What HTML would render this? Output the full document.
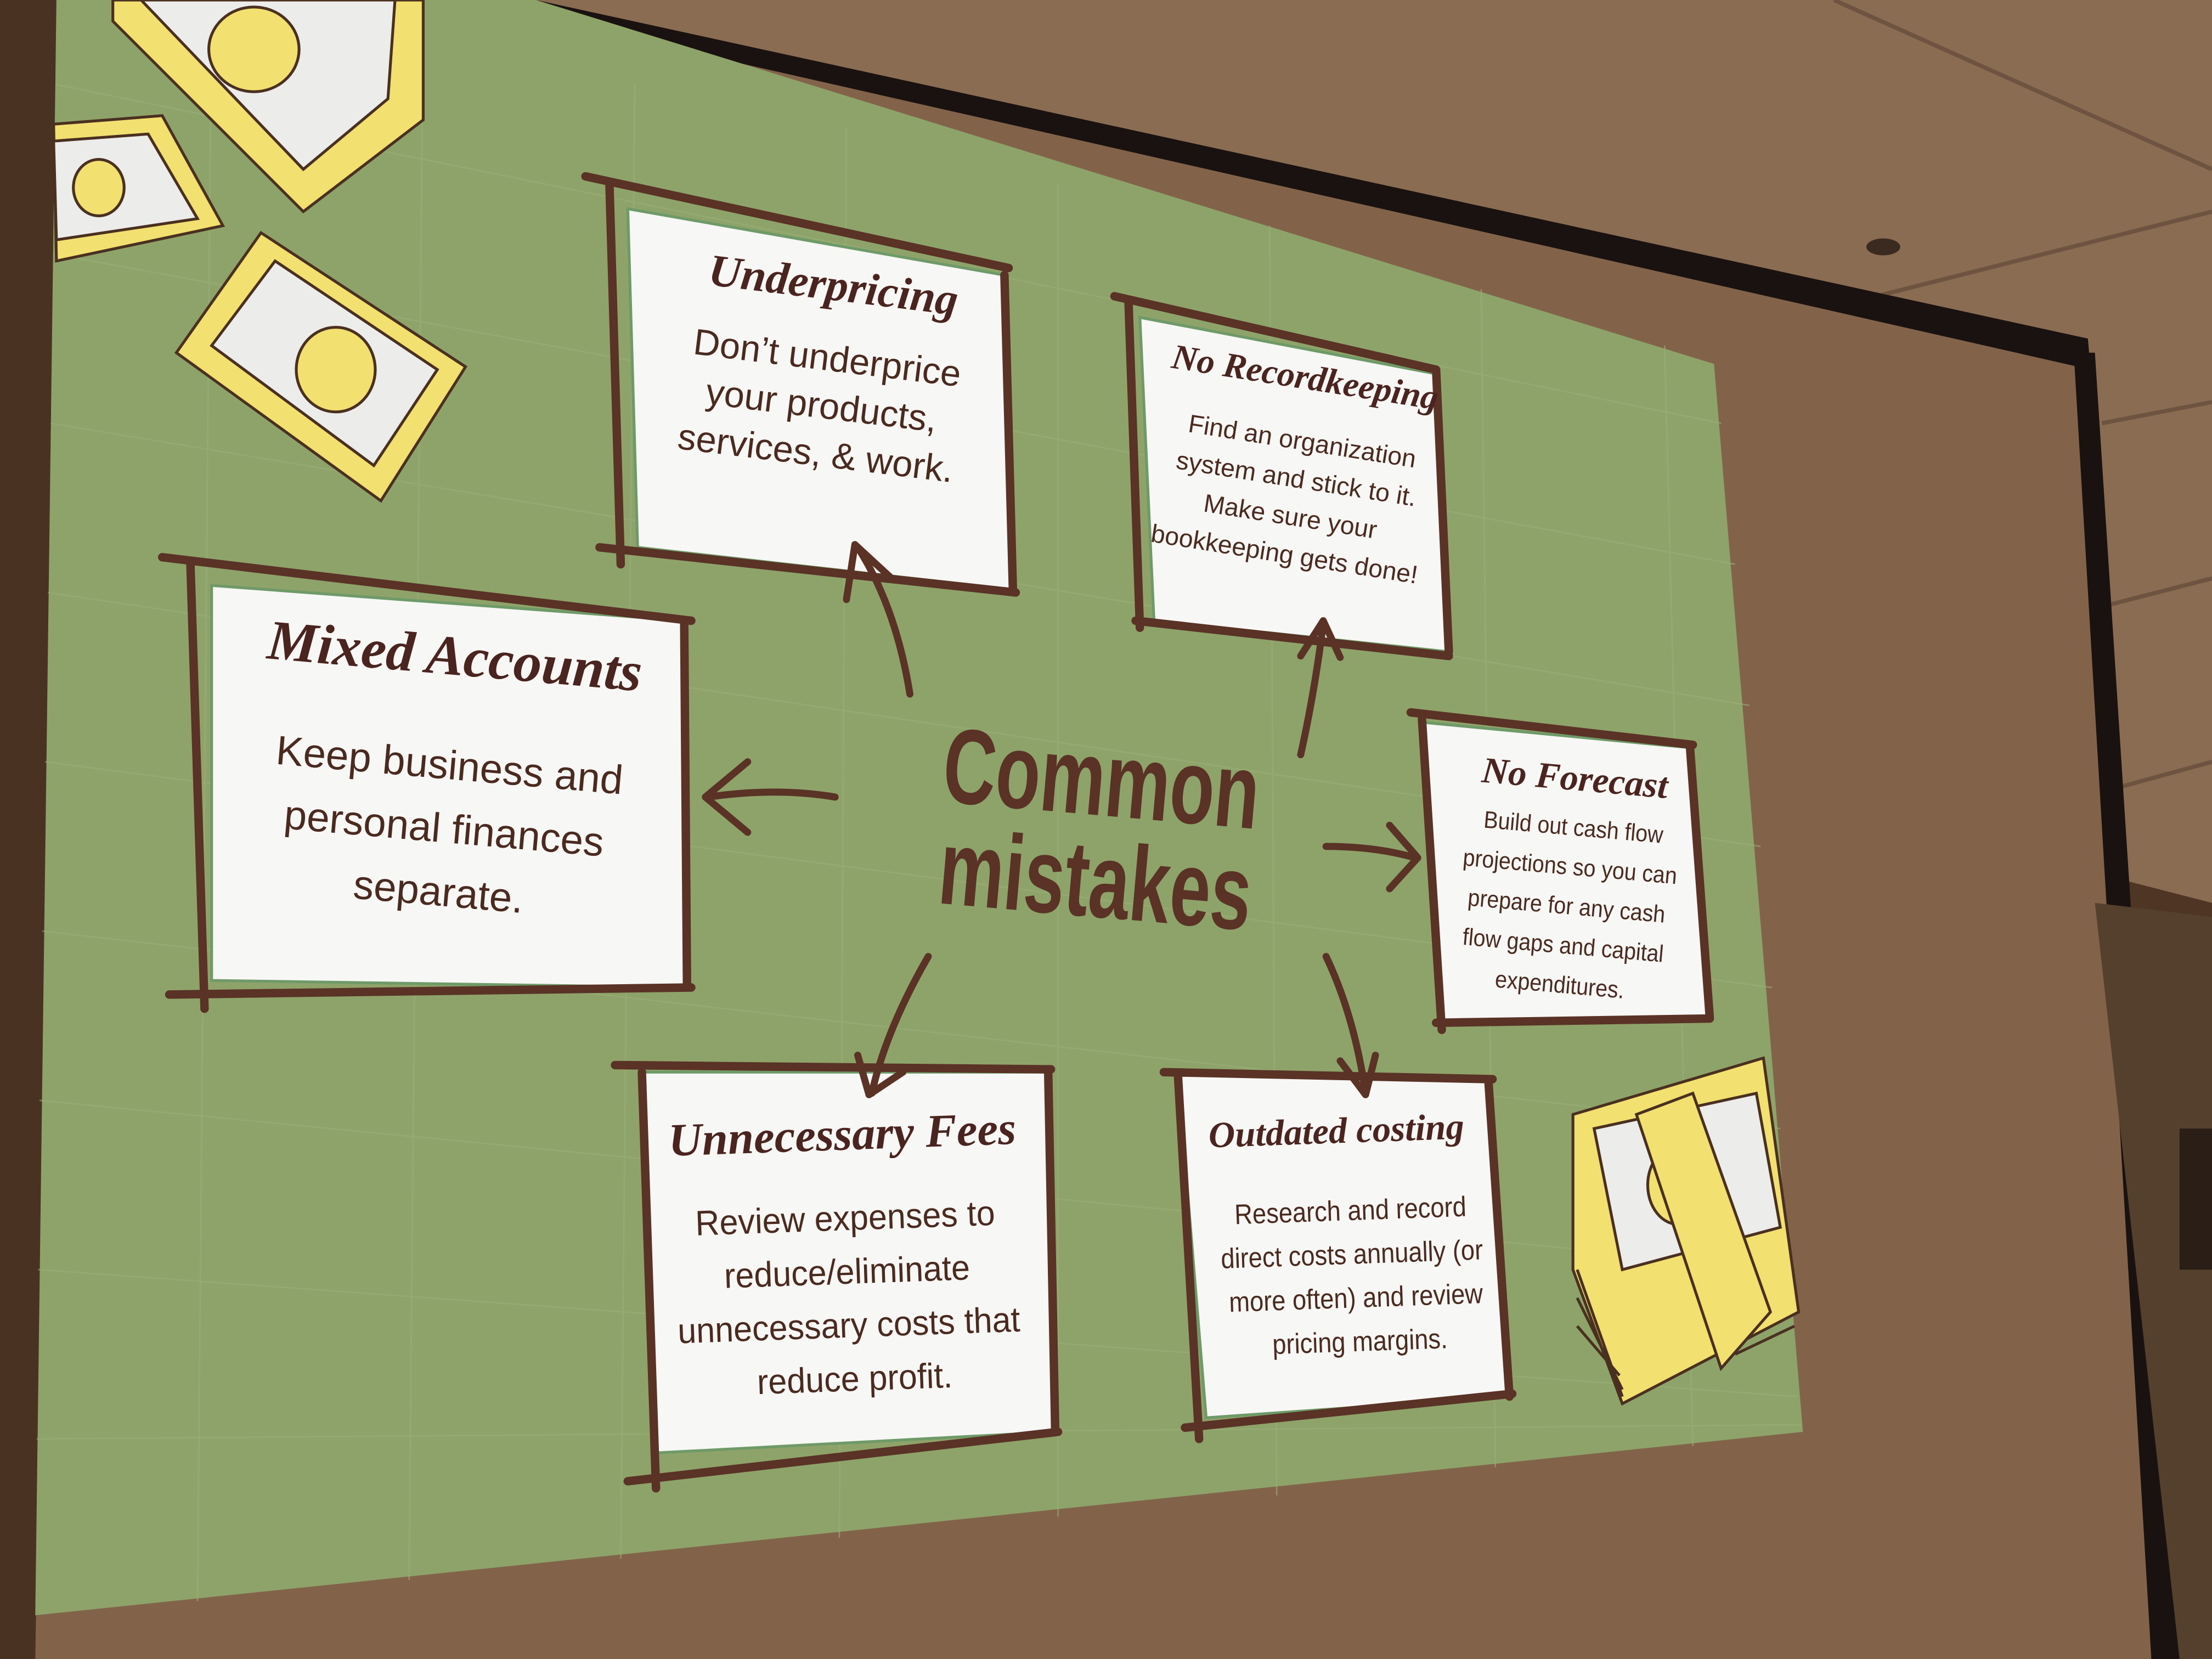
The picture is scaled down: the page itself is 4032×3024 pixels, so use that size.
<!DOCTYPE html>
<html><head><meta charset="utf-8"><style>
html,body{margin:0;padding:0;background:#4a3323;}
svg{display:block}
text{font-family:"Liberation Sans",sans-serif;fill:#4a2a20}
.t{font-family:"Liberation Serif",serif;font-style:italic;font-weight:bold;fill:#4a2420}
</style></head><body>
<svg width="4032" height="3024" viewBox="0 0 1568 1176" xmlns="http://www.w3.org/2000/svg">
<rect width="1568" height="1176" fill="#4e3524"/>
<polygon points="380,0 1568,0 1568,640 1490,620 1480,250" fill="#8a6c52"/>
<line x1="1300" y1="0" x2="1568" y2="120" stroke="#6e5440" stroke-width="3"/>
<line x1="1330" y1="210" x2="1568" y2="150" stroke="#6e5440" stroke-width="3"/>
<line x1="1490" y1="300" x2="1568" y2="285" stroke="#6e5440" stroke-width="3"/>
<line x1="1490" y1="430" x2="1568" y2="410" stroke="#6e5440" stroke-width="3"/>
<line x1="1495" y1="560" x2="1568" y2="540" stroke="#6e5440" stroke-width="3"/>
<ellipse cx="1335" cy="175" rx="12" ry="6" fill="#3a2a20"/>
<polygon points="0,0 380,0 1480,250 1540,1176 0,1176" fill="#82634a"/>
<polygon points="0,0 45,0 25,1176 0,1176" fill="#4a3222"/>
<polygon points="380,0 1480,240 1482,262 380,12" fill="#1a1210"/>
<polygon points="1470,250 1485,250 1545,1176 1525,1176" fill="#1a1210"/>
<polygon points="1485,640 1568,650 1568,1176 1545,1176" fill="#55402e"/>
<rect x="1545" y="800" width="23" height="100" fill="#2a1e16"/>
<polygon points="40,0 380,0 1215,258 1278,1015 25,1145" fill="#8ea36a"/>
<g stroke="#9bb07a" stroke-width="1" opacity="0.6">
<path d="M40,60 L1220,300 M38,180 L1230,400 M36,300 L1240,500 M34,420 L1248,600 M32,540 L1256,700 M30,660 L1262,800 M28,780 L1268,900 M27,900 L1274,990 M26,1020 L1277,1010"/>
<path d="M150,0 L140,1135 M300,0 L290,1120 M450,60 L440,1105 M600,90 L595,1090 M750,130 L750,1075 M900,160 L905,1060 M1050,205 L1060,1040 M1180,245 L1200,1025"/>
</g>
<g stroke="#4a3020" stroke-width="2">
<polygon points="80,0 300,0 300,85 215,150 80,15" fill="#f2e070"/>
<polygon points="100,0 280,0 275,70 215,120" fill="#ececea"/>
<ellipse cx="180" cy="35" rx="32" ry="30" fill="#f2e070"/>
<polygon points="38,88 115,82 158,160 40,185" fill="#f2e070"/>
<polygon points="38,100 105,95 140,155 40,170" fill="#ececea"/>
<ellipse cx="70" cy="133" rx="18" ry="20" fill="#f2e070"/>
<polygon points="125,250 185,165 330,260 270,355" fill="#f2e070"/>
<polygon points="150,245 195,185 310,262 265,330" fill="#ececea"/>
<ellipse cx="238" cy="262" rx="28" ry="30" fill="#f2e070"/>
</g>
<g stroke="#4a3020" stroke-width="2">
<polygon points="1115,790 1250,750 1275,930 1150,995 1115,900" fill="#f2e070"/>
<polygon points="1130,800 1245,775 1262,870 1150,900" fill="#ececea"/>
<ellipse cx="1190" cy="840" rx="22" ry="28" fill="#f2e070"/>
<polygon points="1160,790 1200,775 1255,930 1220,970" fill="#f2e070"/>
<path d="M1118,900 L1150,990 M1118,920 L1150,985 M1118,940 L1148,975 M1230,960 L1272,940" fill="none"/>
</g>
<g fill="#f7f7f5" stroke="#6e9a68" stroke-width="2">
<polygon points="445,148 712,195 718,418 452,388"/>
<polygon points="808,225 1018,265 1027,462 818,440"/>
<polygon points="150,415 485,440 487,700 150,695"/>
<polygon points="1008,512 1198,530 1212,722 1022,724"/>
<polygon points="455,760 745,760 748,1015 463,1030"/>
<polygon points="835,762 1055,765 1070,990 855,1005"/>
</g>
<g stroke="#5a3226" stroke-width="6" fill="none" stroke-linecap="round">
<path d="M415,125 L715,190 M432,130 L440,400 M425,388 L720,420 M712,195 L718,418"/>
<path d="M790,210 L1018,262 M800,215 L808,445 M805,440 L1027,465 M1018,262 L1027,462"/>
<path d="M115,395 L490,440 M135,400 L145,715 M120,705 L490,700 M485,440 L487,700"/>
<path d="M1000,505 L1200,528 M1008,510 L1022,730 M1018,725 L1212,722 M1198,530 L1212,722"/>
<path d="M436,755 L745,758 M455,760 L465,1055 M445,1050 L750,1015 M743,758 L748,1015"/>
<path d="M825,760 L1058,765 M835,762 L850,1020 M840,1012 L1072,988 M1055,765 L1070,990"/>
</g>
<g stroke="#5a3226" stroke-width="5" fill="none" stroke-linecap="round" stroke-linejoin="round">
<path d="M645,492 Q635,430 608,388 M600,425 L606,386 L632,410"/>
<path d="M922,535 Q932,490 938,442 M922,465 L938,440 L950,466"/>
<path d="M592,565 Q550,558 502,565 M530,540 L500,565 L530,590"/>
<path d="M940,600 Q975,600 1003,608 M985,585 L1005,608 L985,630"/>
<path d="M658,678 Q628,730 618,775 M608,748 L616,776 L640,760"/>
<path d="M940,678 Q960,720 968,775 M950,752 L968,776 L975,748"/>
</g>
<g transform="rotate(5 780 585)">
<text x="778" y="578" text-anchor="middle" font-size="72" font-weight="bold" style="font-family:'Liberation Sans Narrow','Liberation Sans',sans-serif;fill:#5a3226" transform="scale(0.72,1.05)" transform-origin="778 578">Common</text>
<text x="780" y="650" text-anchor="middle" font-size="72" font-weight="bold" style="font-family:'Liberation Sans Narrow','Liberation Sans',sans-serif;fill:#5a3226" transform="scale(0.72,1.05)" transform-origin="780 650">mistakes</text>
</g>
<g transform="rotate(7 580 290)">
<text class="t" x="580" y="212" text-anchor="middle" font-size="32">Underpricing</text>
<g font-size="26" text-anchor="middle"><text x="582" y="262">Don’t underprice</text><text x="582" y="296">your products,</text><text x="582" y="330">services, &amp; work.</text></g>
</g>
<g transform="rotate(9 915 345)">
<text class="t" x="913" y="275" text-anchor="middle" font-size="25">No Recordkeeping</text>
<g font-size="18" text-anchor="middle"><text x="918" y="318">Find an organization</text><text x="918" y="345">system and stick to it.</text><text x="918" y="372">Make sure your</text><text x="918" y="399">bookkeeping gets done!</text></g>
</g>
<g transform="rotate(5 315 550)">
<text class="t" x="315" y="478" text-anchor="middle" font-size="40">Mixed Accounts</text>
<g font-size="29" text-anchor="middle"><text x="318" y="552">Keep business and</text><text x="318" y="597">personal finances</text><text x="318" y="642">separate.</text></g>
</g>
<g transform="rotate(5 1112 625)">
<text class="t" x="1110" y="560" text-anchor="middle" font-size="26">No Forecast</text>
<g font-size="17" text-anchor="middle" transform="scale(0.9,1)" transform-origin="1112 625"><text x="1112" y="592">Build out cash flow</text><text x="1112" y="620">projections so you can</text><text x="1112" y="648">prepare for any cash</text><text x="1112" y="676">flow gaps and capital</text><text x="1112" y="704">expenditures.</text></g>
</g>
<g transform="rotate(-2 600 890)">
<text class="t" x="600" y="815" text-anchor="middle" font-size="33">Unnecessary Fees</text>
<g font-size="25" text-anchor="middle" transform="scale(0.95,1)" transform-origin="600 890"><text x="600" y="872">Review expenses to</text><text x="600" y="910">reduce/eliminate</text><text x="600" y="948">unnecessary costs that</text><text x="603" y="986">reduce profit.</text></g>
</g>
<g transform="rotate(-2 955 880)">
<text class="t" x="950" y="810" text-anchor="middle" font-size="26">Outdated costing</text>
<g font-size="20" text-anchor="middle" transform="scale(0.88,1)" transform-origin="958 880"><text x="958" y="865">Research and record</text><text x="958" y="896">direct costs annually (or</text><text x="960" y="927">more often) and review</text><text x="962" y="958">pricing margins.</text></g>
</g>
</svg>
</body></html>
